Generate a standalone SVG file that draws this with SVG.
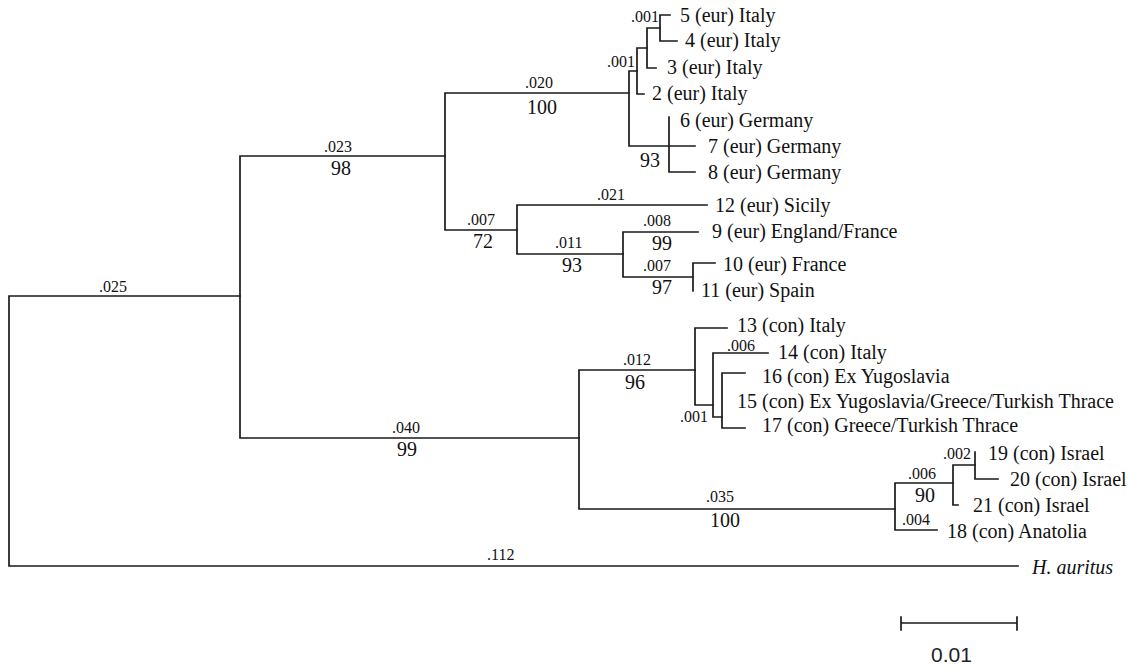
<svg xmlns="http://www.w3.org/2000/svg" width="1129" height="668" viewBox="0 0 1129 668">
<style>
.e{stroke:#1a1a1a;stroke-width:1.7;fill:none;stroke-linecap:square}
text{font-family:'Liberation Serif','DejaVu Serif','Times New Roman',serif;fill:#111}
.lf{font-size:20px}
.bl{font-size:16px}
.bs{font-size:20px}
.sc{font-family:'Liberation Sans',Arial,sans-serif;font-size:21px;fill:#222}
</style>
<rect width="1129" height="668" fill="#fff"/>
<g id="connectors" class="e">
<path d="M9,296V566M9,296H240M9,566H1018"/>
<path d="M240,156V438M240,156H445M240,438H579"/>
<path d="M445,93V230M445,93H629M445,230H517"/>
<path d="M629,71V146M629,71H637M629,146H695"/>
<path d="M669,117V172M669,172H695M669,146V162"/>
<path d="M637,48V94M637,48H647M637,94H644"/>
<path d="M647,28V68M647,28H660M647,68H656"/>
<path d="M660,15V41M660,15H670M660,41H677"/>
<path d="M517,205V254M517,205H707M517,254H623"/>
<path d="M623,232V277M623,232H698M623,277H693"/>
<path d="M693,263V291M693,263H715"/>
<path d="M579,370V509M579,370H695M579,509H895"/>
<path d="M695,328V405M695,328H727M695,405H713"/>
<path d="M713,353V417M713,353H768M713,417H722"/>
<path d="M722,373V428M722,373H745M722,428H745"/>
<path d="M895,483V530M895,483H953M895,530H937"/>
<path d="M953,465V505M953,465H975M953,505H958"/>
<path d="M975,452V479M975,479H998"/>
</g>
<g id="leaf-5"><text class="lf" x="680" y="22">5 (eur) Italy</text></g>
<g id="leaf-4"><text class="lf" x="685" y="47">4 (eur) Italy</text></g>
<g id="leaf-3"><text class="lf" x="667" y="74">3 (eur) Italy</text></g>
<g id="leaf-2"><text class="lf" x="652" y="100">2 (eur) Italy</text></g>
<g id="leaf-6"><text class="lf" x="680" y="127">6 (eur) Germany</text></g>
<g id="leaf-7"><text class="lf" x="708" y="153">7 (eur) Germany</text></g>
<g id="leaf-8"><text class="lf" x="708" y="179">8 (eur) Germany</text></g>
<g id="leaf-12"><text class="lf" x="715" y="212">12 (eur) Sicily</text></g>
<g id="leaf-9"><text class="lf" x="712" y="238">9 (eur) England/France</text></g>
<g id="leaf-10"><text class="lf" x="723" y="271">10 (eur) France</text></g>
<g id="leaf-11"><text class="lf" x="701" y="297">11 (eur) Spain</text></g>
<g id="leaf-13"><text class="lf" x="737" y="332">13 (con) Italy</text></g>
<g id="leaf-14"><text class="lf" x="778" y="359">14 (con) Italy</text></g>
<g id="leaf-16"><text class="lf" x="762" y="383">16 (con) Ex Yugoslavia</text></g>
<g id="leaf-15"><text class="lf" x="737" y="408">15 (con) Ex Yugoslavia/Greece/Turkish Thrace</text></g>
<g id="leaf-17"><text class="lf" x="762" y="432">17 (con) Greece/Turkish Thrace</text></g>
<g id="leaf-19"><text class="lf" x="988" y="460">19 (con) Israel</text></g>
<g id="leaf-20"><text class="lf" x="1010" y="486">20 (con) Israel</text></g>
<g id="leaf-21"><text class="lf" x="973" y="512">21 (con) Israel</text></g>
<g id="leaf-18"><text class="lf" x="947" y="538">18 (con) Anatolia</text></g>
<g id="leaf-outgroup"><text class="lf" x="1032" y="574" font-style="italic">H. auritus</text></g>
<g id="node-labels">
<text class="bl" x="631" y="22">.001</text>
<text class="bl" x="607" y="67">.001</text>
<text class="bl" x="525" y="88">.020</text>
<text class="bs" x="527" y="114">100</text>
<text class="bs" x="640" y="167">93</text>
<text class="bl" x="324" y="152">.023</text>
<text class="bs" x="331" y="175">98</text>
<text class="bl" x="99" y="292">.025</text>
<text class="bl" x="467" y="225">.007</text>
<text class="bs" x="473" y="248">72</text>
<text class="bl" x="597" y="200">.021</text>
<text class="bl" x="555" y="248">.011</text>
<text class="bs" x="562" y="272">93</text>
<text class="bl" x="643" y="226">.008</text>
<text class="bs" x="652" y="250">99</text>
<text class="bl" x="643" y="271">.007</text>
<text class="bs" x="652" y="294">97</text>
<text class="bl" x="392" y="433">.040</text>
<text class="bs" x="397" y="456">99</text>
<text class="bl" x="623" y="365">.012</text>
<text class="bs" x="625" y="389">96</text>
<text class="bl" x="727" y="351">.006</text>
<text class="bl" x="680" y="422">.001</text>
<text class="bl" x="706" y="502">.035</text>
<text class="bs" x="710" y="527">100</text>
<text class="bl" x="908" y="479">.006</text>
<text class="bs" x="915" y="502">90</text>
<text class="bl" x="902" y="525">.004</text>
<text class="bl" x="943" y="459">.002</text>
<text class="bl" x="487" y="560">.112</text>
</g>
<g id="scale-bar">
<path class="e" d="M901,623H1017M901,617V630M1017,617V630"/>
<text class="sc" x="931" y="662">0.01</text>
</g>
</svg>
